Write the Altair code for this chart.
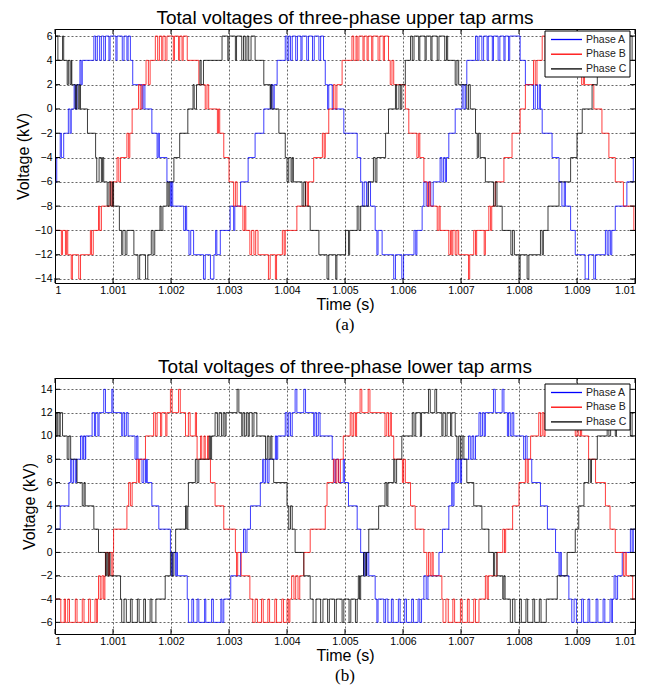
import altair as alt
import pandas as pd

PHASES = ["Phase A", "Phase B", "Phase C"]
COLORS = ["#0000ff", "#ff0000", "#000000"]
X_TICKS = [1.000, 1.001, 1.002, 1.003, 1.004, 1.005, 1.006, 1.007, 1.008, 1.009, 1.010]
UP_TICKS = [-14, -12, -10, -8, -6, -4, -2, 0, 2, 4, 6]
LO_TICKS = [-6, -4, -2, 0, 2, 4, 6, 8, 10, 12, 14]

# (time offset in ms after t = 1 s, level in kV) at each switching edge
UA = [(0.00,-6),(0.03,-4),(0.09,-2),(0.11,-4),(0.15,-2),(0.23,0),(0.26,-2),(0.28,0),(0.33,2),(0.35,0),(0.38,2),(0.43,4),(0.45,2),(0.47,4),
      (0.67,6),(0.70,4),(0.73,6),(0.77,4),(0.80,6),(0.84,4),(0.87,6),(0.93,4),(0.95,6),(1.05,4),(1.07,6),(1.16,4),(1.19,6),(1.24,4),(1.26,6),
      (1.30,4),(1.34,2),(1.50,0),(1.52,2),(1.55,0),(1.67,-2),(1.76,-4),(1.78,-2),(1.80,-4),(1.93,-6),(1.99,-8),(2.01,-6),(2.03,-8),
      (2.22,-10),(2.25,-8),(2.27,-10),(2.31,-12),(2.34,-10),(2.39,-12),(2.56,-14),(2.59,-12),(2.68,-14),(2.74,-12),(2.77,-10),(2.79,-12),
      (2.85,-10),(3.02,-8),(3.08,-10),(3.10,-8),(3.20,-6),(3.33,-4),(3.45,-2),(3.60,0),(3.73,2),(3.76,0),(3.78,2),(3.83,4),
      (3.97,6),(4.00,4),(4.03,6),(4.06,4),(4.09,6),(4.15,4),(4.18,6),(4.24,4),(4.26,6),(4.34,4),(4.37,6),(4.44,4),(4.47,6),(4.55,4),(4.58,6),
      (4.63,4),(4.66,2),(4.70,0),(4.72,2),(4.78,0),(4.98,-2),(5.21,-4),(5.27,-6),(5.30,-8),(5.33,-6),(5.37,-8),(5.40,-6),(5.44,-8),
      (5.52,-10),(5.55,-12),(5.57,-10),(5.64,-12),(5.84,-14),(5.87,-12),(5.98,-14),(6.01,-12),(6.19,-10),(6.22,-12),(6.24,-10),
      (6.33,-8),(6.36,-6),(6.40,-8),(6.44,-6),(6.48,-8),(6.52,-6),(6.64,-4),(6.67,-6),(6.70,-4),(6.73,-6),(6.75,-4),(6.79,-2),(6.90,0),
      (7.02,2),(7.05,0),(7.08,2),(7.10,4),(7.25,6),(7.28,4),(7.31,6),(7.36,4),(7.39,6),(7.45,4),(7.47,6),(7.54,4),(7.56,6),(7.64,4),(7.67,6),
      (7.74,4),(7.76,6),(7.82,4),(7.84,6),(8.02,4),(8.11,2),(8.25,0),(8.28,2),(8.32,0),(8.35,2),(8.37,0),(8.40,-2),(8.57,-4),(8.69,-6),
      (8.74,-8),(8.78,-6),(8.80,-8),(8.89,-10),(8.97,-12),(9.14,-14),(9.20,-12),(9.29,-14),(9.32,-12),(9.49,-10),(9.52,-12),(9.55,-10),
      (9.58,-12),(9.60,-10),(9.66,-8),(9.86,-6),(9.97,-4)]

UB = [(0.00,-10),(0.11,-12),(0.13,-10),(0.18,-12),(0.20,-10),(0.22,-12),(0.28,-14),(0.30,-12),(0.41,-14),(0.44,-12),(0.61,-10),(0.63,-12),
      (0.66,-10),(0.75,-8),(0.77,-10),(0.80,-8),(0.95,-6),(0.98,-8),(1.00,-6),(1.07,-4),(1.10,-6),(1.13,-4),(1.24,-2),(1.27,-4),(1.29,-2),
      (1.33,0),(1.44,2),(1.47,0),(1.50,2),(1.57,4),(1.61,2),(1.64,4),(1.73,6),(1.77,4),(1.80,6),(1.84,4),(1.86,6),(1.90,4),(1.93,6),(2.04,4),
      (2.06,6),(2.13,4),(2.15,6),(2.19,4),(2.21,6),(2.28,4),(2.48,2),(2.59,0),(2.62,2),(2.65,0),(2.80,-2),(2.82,0),(2.84,-2),(2.91,-4),
      (3.00,-6),(3.08,-8),(3.11,-6),(3.14,-8),(3.24,-10),(3.27,-8),(3.29,-10),(3.36,-12),(3.39,-10),(3.43,-12),(3.46,-10),(3.50,-12),
      (3.68,-14),(3.71,-12),(3.80,-14),(3.82,-12),(3.92,-10),(3.95,-12),(3.97,-10),(4.17,-8),(4.32,-6),(4.35,-8),(4.37,-6),(4.46,-4),
      (4.61,-2),(4.64,-4),(4.66,-2),(4.72,0),(4.80,2),(4.83,0),(4.86,2),(4.95,4),(5.12,6),(5.15,4),(5.19,6),(5.21,4),(5.24,6),(5.31,4),
      (5.33,6),(5.38,4),(5.40,6),(5.46,4),(5.48,6),(5.57,4),(5.60,6),(5.66,4),(5.68,6),(5.75,4),(5.78,2),(5.81,4),(5.84,2),(6.04,0),
      (6.10,-2),(6.24,-4),(6.27,-2),(6.29,-4),(6.36,-6),(6.42,-8),(6.45,-6),(6.47,-8),(6.59,-10),(6.62,-8),(6.64,-10),(6.79,-12),(6.82,-10),
      (6.84,-12),(6.86,-10),(6.90,-12),(6.93,-10),(6.96,-12),(7.13,-14),(7.15,-12),(7.22,-10),(7.25,-12),(7.27,-10),(7.40,-12),(7.42,-10),
      (7.48,-8),(7.51,-10),(7.53,-8),(7.59,-6),(7.74,-4),(7.88,-2),(8.02,0),(8.11,2),(8.25,4),(8.28,2),(8.31,4),(8.40,6),(8.45,4),(8.48,6),
      (8.60,4),(8.62,6),(8.75,4),(8.78,6),(8.90,4),(8.93,6),(9.02,4),(9.08,2),(9.11,4),(9.13,2),(9.29,0),(9.43,-2),(9.55,-4),(9.66,-6),
      (9.80,-8),(9.98,-10)]

UC = [(0.00,6),(0.05,4),(0.13,6),(0.15,4),(0.21,2),(0.23,4),(0.26,2),(0.28,4),(0.29,2),(0.35,0),(0.37,2),(0.40,0),(0.42,2),(0.44,0),
      (0.56,-2),(0.70,-4),(0.72,-6),(0.76,-4),(0.80,-6),(0.82,-4),(0.84,-6),(0.90,-8),(0.93,-6),(0.96,-8),(0.99,-6),(1.01,-8),(1.11,-10),
      (1.15,-12),(1.17,-10),(1.21,-12),(1.24,-10),(1.36,-12),(1.43,-14),(1.46,-12),(1.56,-14),(1.60,-12),(1.66,-10),(1.69,-12),(1.72,-10),
      (1.81,-8),(1.83,-10),(1.86,-8),(1.93,-6),(1.95,-8),(1.97,-6),(2.05,-4),(2.15,-2),(2.29,0),(2.38,2),(2.40,0),(2.44,2),(2.50,4),(2.52,2),
      (2.56,4),(2.88,6),(2.98,4),(3.00,6),(3.11,4),(3.13,6),(3.22,4),(3.25,6),(3.28,4),(3.31,6),(3.34,4),(3.38,6),(3.45,4),(3.60,2),(3.71,0),
      (3.72,2),(3.74,0),(3.86,-2),(3.97,-4),(4.00,-6),(4.03,-4),(4.07,-6),(4.09,-4),(4.11,-6),(4.26,-8),(4.29,-6),(4.32,-8),(4.40,-10),
      (4.55,-12),(4.69,-14),(4.72,-12),(4.84,-14),(4.86,-12),(5.01,-10),(5.06,-12),(5.08,-10),(5.21,-8),(5.24,-10),(5.27,-8),(5.40,-6),
      (5.49,-4),(5.52,-6),(5.55,-4),(5.70,-2),(5.75,0),(5.87,2),(5.89,0),(5.93,2),(5.96,0),(5.98,2),(6.04,4),(6.13,6),(6.16,4),(6.19,6),
      (6.27,4),(6.29,6),(6.38,4),(6.40,6),(6.48,4),(6.50,6),(6.59,4),(6.62,6),(6.72,4),(6.75,6),(6.77,4),(6.90,2),(6.93,4),(6.96,2),(7.10,0),
      (7.13,2),(7.16,0),(7.25,-2),(7.28,-4),(7.30,-2),(7.33,-4),(7.42,-6),(7.56,-8),(7.59,-6),(7.62,-8),(7.71,-10),(7.86,-12),(7.89,-10),
      (7.92,-12),(8.00,-14),(8.02,-12),(8.14,-14),(8.17,-12),(8.37,-10),(8.40,-12),(8.42,-10),(8.50,-8),(8.69,-6),(8.89,-4),(9.00,-2),
      (9.09,0),(9.26,2),(9.35,4),(9.45,6),(9.55,4),(9.58,6),(9.70,4),(9.73,6),(9.85,4),(9.88,6),(9.95,4)]

LA = [(0.00,2),(0.09,4),(0.24,6),(0.27,8),(0.29,6),(0.32,8),(0.35,6),(0.37,8),(0.44,10),(0.47,8),(0.49,10),(0.52,8),(0.53,10),(0.64,12),
      (0.68,10),(0.70,12),(0.74,10),(0.76,12),(0.84,14),(0.87,12),(0.98,14),(1.00,12),(1.15,10),(1.17,12),(1.20,10),(1.23,12),(1.26,10),
      (1.38,8),(1.41,10),(1.43,8),(1.50,6),(1.53,8),(1.56,6),(1.58,8),(1.59,6),(1.67,4),(1.79,2),(1.99,0),(2.01,-2),(2.03,0),(2.08,-2),
      (2.10,0),(2.11,-2),(2.28,-4),(2.30,-6),(2.36,-4),(2.39,-6),(2.45,-4),(2.48,-6),(2.58,-4),(2.60,-6),(2.70,-4),(2.73,-6),(2.86,-4),
      (2.88,-6),(2.91,-4),(3.03,-2),(3.20,0),(3.25,2),(3.28,0),(3.31,2),(3.37,4),(3.54,6),(3.58,8),(3.60,6),(3.63,8),(3.66,6),(3.69,8),
      (3.80,10),(3.82,8),(3.84,10),(3.97,12),(4.00,10),(4.03,12),(4.06,10),(4.09,12),(4.14,14),(4.17,12),(4.29,14),(4.32,12),(4.46,10),
      (4.48,12),(4.51,10),(4.54,12),(4.57,10),(4.78,8),(4.81,6),(4.84,8),(4.89,6),(4.97,8),(4.99,6),(5.06,4),(5.21,2),(5.27,0),(5.32,-2),
      (5.34,0),(5.37,-2),(5.38,0),(5.41,-2),(5.52,-4),(5.55,-6),(5.57,-4),(5.67,-6),(5.70,-4),(5.74,-6),(5.80,-4),(5.83,-6),(5.92,-4),
      (5.95,-6),(6.03,-4),(6.06,-6),(6.15,-4),(6.18,-6),(6.26,-4),(6.29,-6),(6.32,-4),(6.36,-2),(6.40,-4),(6.43,-2),(6.62,0),(6.68,2),
      (6.79,4),(6.84,6),(6.86,4),(6.88,6),(6.91,8),(6.93,6),(6.96,8),(6.99,6),(7.01,8),(7.13,10),(7.16,8),(7.19,10),(7.22,8),(7.25,10),
      (7.31,12),(7.34,10),(7.37,12),(7.40,10),(7.42,12),(7.56,14),(7.59,12),(7.71,14),(7.74,12),(7.80,10),(7.82,12),(7.85,10),(7.88,12),
      (7.91,10),(8.08,8),(8.11,10),(8.14,8),(8.22,6),(8.37,4),(8.49,2),(8.63,0),(8.69,-2),(8.71,0),(8.73,-2),(8.86,-4),(8.91,-6),(8.95,-4),
      (8.99,-6),(9.08,-4),(9.11,-6),(9.19,-4),(9.22,-6),(9.33,-4),(9.36,-6),(9.45,-4),(9.48,-6),(9.57,-4),(9.60,-6),(9.61,-4),(9.64,-2),
      (9.67,-4),(9.70,-2),(9.78,0),(9.92,2),(9.95,0),(9.97,2)]

LB = [(0.00,-4),(0.10,-6),(0.16,-4),(0.18,-6),(0.22,-4),(0.25,-6),(0.35,-4),(0.38,-6),(0.47,-4),(0.50,-6),(0.58,-4),(0.61,-6),(0.69,-4),
      (0.72,-6),(0.73,-4),(0.75,-2),(0.78,-4),(0.81,-2),(0.84,-4),(0.86,-2),(0.87,0),(0.92,-2),(0.94,0),(0.98,-2),(1.00,0),(1.01,2),(1.24,4),
      (1.27,6),(1.30,4),(1.33,6),(1.41,8),(1.44,6),(1.46,8),(1.56,10),(1.70,12),(1.73,10),(1.76,12),(1.82,10),(1.84,12),(1.91,10),(1.93,12),
      (1.99,14),(2.02,12),(2.13,14),(2.16,12),(2.25,10),(2.30,12),(2.33,10),(2.42,12),(2.44,10),(2.45,8),(2.51,10),(2.53,8),(2.57,10),
      (2.59,8),(2.63,10),(2.65,8),(2.68,6),(2.76,4),(2.91,2),(3.11,0),(3.13,-2),(3.15,0),(3.21,-2),(3.36,-4),(3.41,-6),(3.45,-4),(3.49,-6),
      (3.56,-4),(3.59,-6),(3.67,-4),(3.70,-6),(3.79,-4),(3.82,-6),(3.91,-4),(3.94,-6),(4.00,-4),(4.03,-6),(4.05,-4),(4.08,-2),(4.12,-4),
      (4.15,-2),(4.19,-4),(4.22,-2),(4.29,0),(4.40,2),(4.66,4),(4.69,6),(4.80,8),(4.83,6),(4.86,8),(4.89,6),(4.92,8),(4.97,10),(5.09,12),
      (5.12,10),(5.15,12),(5.18,10),(5.20,12),(5.26,14),(5.29,12),(5.40,14),(5.43,12),(5.69,10),(5.72,12),(5.75,10),(5.78,12),(5.80,10),
      (5.84,8),(5.99,6),(6.01,8),(6.04,6),(6.13,4),(6.21,2),(6.36,0),(6.41,-2),(6.44,0),(6.47,-2),(6.50,0),(6.52,-2),(6.67,-4),(6.69,-6),
      (6.74,-4),(6.78,-6),(6.86,-4),(6.89,-6),(6.99,-4),(7.02,-6),(7.11,-4),(7.14,-6),(7.22,-4),(7.25,-6),(7.31,-4),(7.42,-2),(7.45,-4),
      (7.47,-2),(7.62,0),(7.72,2),(7.75,0),(7.77,2),(7.89,4),(8.00,6),(8.11,8),(8.14,6),(8.16,8),(8.20,10),(8.34,12),(8.37,10),(8.40,12),
      (8.43,10),(8.45,12),(8.56,14),(8.59,12),(8.70,14),(8.73,12),(8.97,10),(9.00,12),(9.03,10),(9.06,12),(9.08,10),(9.20,8),(9.32,6),
      (9.49,4),(9.57,2),(9.66,0),(9.80,-2),(9.83,0),(9.85,-2),(9.96,-4)]

LC = [(0.00,12),(0.02,10),(0.04,12),(0.07,10),(0.09,12),(0.13,10),(0.21,8),(0.24,10),(0.27,8),(0.38,6),(0.47,4),(0.50,6),(0.52,4),(0.67,2),
      (0.75,0),(0.87,-2),(0.89,0),(0.91,-2),(0.93,0),(0.95,-2),(1.13,-4),(1.15,-6),(1.19,-4),(1.23,-6),(1.30,-4),(1.33,-6),(1.42,-4),
      (1.45,-6),(1.53,-4),(1.56,-6),(1.64,-4),(1.67,-6),(1.74,-4),(1.90,-2),(1.99,0),(2.02,-2),(2.05,0),(2.08,2),(2.25,4),(2.27,2),(2.29,4),
      (2.30,6),(2.42,8),(2.45,6),(2.48,8),(2.66,10),(2.68,8),(2.70,10),(2.76,12),(2.80,10),(2.83,12),(2.87,10),(2.90,12),(2.93,10),(2.95,12),
      (3.14,14),(3.17,12),(3.22,10),(3.24,12),(3.27,10),(3.30,12),(3.33,10),(3.35,12),(3.40,10),(3.43,12),(3.48,10),(3.63,8),(3.66,10),
      (3.69,8),(3.72,10),(3.74,8),(3.77,6),(4.00,4),(4.03,2),(4.06,4),(4.09,2),(4.14,0),(4.29,-2),(4.40,-4),(4.45,-6),(4.50,-4),(4.58,-6),
      (4.62,-4),(4.70,-6),(4.73,-4),(4.82,-6),(4.85,-4),(4.95,-6),(4.98,-4),(5.07,-6),(5.10,-4),(5.18,-6),(5.21,-4),(5.23,-2),(5.25,-4),
      (5.27,-2),(5.32,0),(5.35,-2),(5.37,0),(5.41,2),(5.58,4),(5.69,6),(5.72,4),(5.74,6),(5.84,8),(5.86,6),(5.89,8),(5.98,10),(6.16,12),
      (6.19,10),(6.22,12),(6.30,10),(6.32,12),(6.44,14),(6.47,12),(6.55,14),(6.58,12),(6.67,10),(6.69,12),(6.73,10),(6.76,12),(6.82,10),
      (6.84,12),(6.90,10),(6.93,8),(6.96,10),(6.99,8),(7.02,10),(7.05,8),(7.10,6),(7.22,4),(7.36,2),(7.48,0),(7.56,-2),(7.58,0),(7.62,-2),
      (7.72,-4),(7.74,-2),(7.76,-4),(7.85,-6),(7.89,-4),(7.93,-6),(8.01,-4),(8.04,-6),(8.12,-4),(8.15,-6),(8.24,-4),(8.27,-6),(8.35,-4),
      (8.38,-6),(8.47,-4),(8.66,-2),(8.83,0),(8.97,2),(9.03,4),(9.12,6),(9.20,8),(9.23,6),(9.25,8),(9.35,10),(9.52,12),(9.55,10),(9.58,12),
      (9.66,10),(9.68,12),(9.78,14),(9.81,12),(9.92,10),(9.95,12)]

W = 580
SANS = "Liberation Sans"
SERIF = "Liberation Serif"


def series_frame(lists):
    rows = []
    for name, pts in zip(PHASES, lists):
        for ms, v in pts:
            rows.append({"t": 1.0 + ms / 1000.0, "v": v, "phase": name})
        rows.append({"t": 1.01, "v": pts[-1][1], "phase": name})
    return pd.DataFrame(rows)


def panel(lists, title, ydom, yticks, caption, H, leg_top):
    df = series_frame(lists)
    xsc = alt.Scale(domain=[1.0, 1.01], nice=False, zero=False)
    ysc = alt.Scale(domain=ydom, nice=False, zero=False)
    xax = alt.Axis(values=X_TICKS, format=".3~f", title="Time (s)")
    yax = alt.Axis(values=yticks, title="Voltage (kV)")
    lines = alt.Chart(df).mark_line(interpolate="step-after", strokeWidth=0.85, strokeOpacity=0.9,
                                    clip=True).encode(
        x=alt.X("t:Q", scale=xsc, axis=xax),
        y=alt.Y("v:Q", scale=ysc, axis=yax),
        color=alt.Color("phase:N", scale=alt.Scale(domain=PHASES, range=COLORS), legend=None),
    )
    xt = pd.DataFrame({"t": X_TICKS})
    yt = pd.DataFrame({"v": yticks})
    tick_style = dict(color="black", strokeWidth=1)
    top_t = alt.Chart(xt).mark_rule(**tick_style).encode(
        x=alt.X("t:Q", scale=xsc, axis=xax), y=alt.value(0), y2=alt.value(5))
    bot_t = alt.Chart(xt).mark_rule(**tick_style).encode(
        x=alt.X("t:Q", scale=xsc, axis=xax), y=alt.value(H - 5), y2=alt.value(H))
    left_t = alt.Chart(yt).mark_rule(**tick_style).encode(
        y=alt.Y("v:Q", scale=ysc, axis=yax), x=alt.value(0), x2=alt.value(5))
    right_t = alt.Chart(yt).mark_rule(**tick_style).encode(
        y=alt.Y("v:Q", scale=ysc, axis=yax), x=alt.value(W - 5), x2=alt.value(W))

    one = pd.DataFrame({"k": [0]})
    box = alt.Chart(one).mark_rect(fill="white", stroke="black", strokeWidth=1).encode(
        x=alt.value(490), x2=alt.value(575), y=alt.value(leg_top), y2=alt.value(leg_top + 46))
    layers = [lines, top_t, bot_t, left_t, right_t, box]
    for i, (name, col) in enumerate(zip(PHASES, COLORS)):
        yy = leg_top + 8.5 + 14.7 * i
        layers.append(alt.Chart(one).mark_rule(color=col, strokeWidth=1.3).encode(
            x=alt.value(496), x2=alt.value(527), y=alt.value(yy)))
        layers.append(alt.Chart(one).mark_text(align="left", baseline="middle", font=SANS,
                                                fontSize=10.5, color="#222222").encode(
            x=alt.value(531), y=alt.value(yy), text=alt.value(name)))
    cap = alt.Chart(one).mark_text(align="center", baseline="middle", font=SERIF,
                                   fontSize=17, color="black").encode(
        x=alt.value(W / 2), y=alt.value(H + 42), text=alt.value(caption))
    layers.append(cap)
    return alt.layer(*layers).properties(
        width=W, height=H,
        title=alt.TitleParams(text=title, font=SANS, fontSize=19, fontWeight="normal",
                              color="black", anchor="middle", offset=1),
    )


upper = panel([UA, UB, UC], "Total voltages of three-phase upper tap arms",
              [-14.33, 6.58], UP_TICKS, "(a)", 254, 2)
lower = panel([LA, LB, LC], "Total voltages of three-phase lower tap arms",
              [-7.0, 14.97], LO_TICKS, "(b)", 256, 6)

chart = alt.vconcat(upper, lower, spacing=23).properties(
    padding={"left": 6, "top": 0, "right": 0, "bottom": 0}
).configure_view(
    stroke="black", strokeWidth=1
).configure_axis(
    domain=False, ticks=False, tickSize=0, grid=True, gridColor="#000000", gridOpacity=0.75,
    gridDash=[2, 2], gridWidth=0.8, labelFont=SANS, labelFontSize=10.5, labelColor="black",
    labelPadding=3, titleFont=SANS, titleFontSize=16, titleFontWeight="normal", titleColor="black",
    titlePadding=3,
).configure_axisX(labelPadding=2, titlePadding=1)

chart.save("out.html", embed_options={"renderer": "svg", "actions": False})
